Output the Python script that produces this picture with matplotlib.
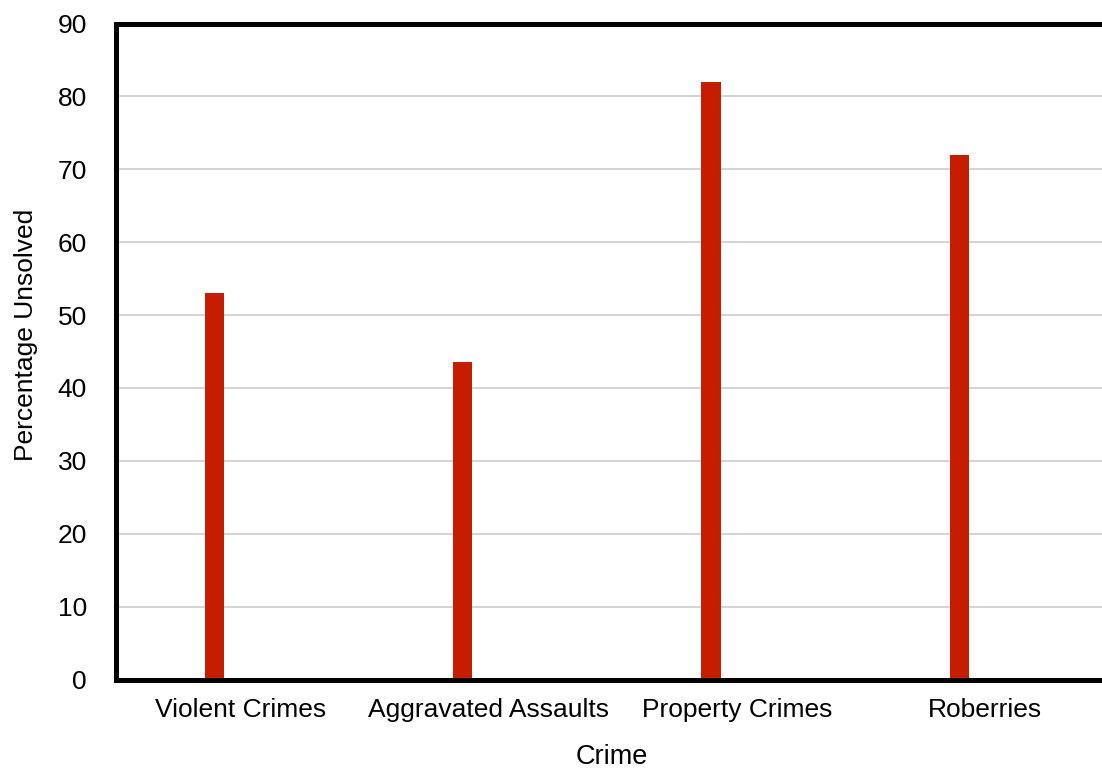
import matplotlib
matplotlib.use("Agg")
import matplotlib.pyplot as plt
import numpy as np

# Share of reported crimes left unsolved, by crime type
crimes = ["Violent Crimes", "Aggravated Assaults", "Property Crimes", "Roberries"]
unsolved_pct = [53.0, 43.6, 82.0, 72.0]
y_ticks = [0, 10, 20, 30, 40, 50, 60, 70, 80, 90]

plt.rcParams["font.family"] = ["Liberation Sans", "DejaVu Sans"]

fig = plt.figure(figsize=(11.02, 7.70), dpi=100)
W, H = 1102, 770
left, right, top, bottom = 116, 1102, 23.5, 679.5
ax = fig.add_axes([left / W, 1 - bottom / H, (right - left) / W, (bottom - top) / H])

x = np.arange(len(crimes))
bar_offset = -0.105
bar_width = 0.077
ax.bar(x + bar_offset, unsolved_pct, width=bar_width, color="#C61C00", zorder=3)

ax.set_xlim(-0.5016, 3.47)
ax.set_ylim(0, 90)
ax.set_yticks(y_ticks)
ax.set_xticks(x)
ax.set_xticklabels(crimes)

ax.grid(axis="y", color="#c8c8c8", linewidth=1.1, zorder=0)
ax.grid(axis="x", visible=False)

for side in ("left", "top", "bottom"):
    ax.spines[side].set_linewidth(3.6)
    ax.spines[side].set_color("black")
    ax.spines[side].set_zorder(4)
ax.spines["right"].set_visible(False)

ax.tick_params(axis="y", length=0, pad=21, labelsize=19)
ax.tick_params(axis="x", length=0, pad=13, labelsize=19)

ax.set_xlabel("Crime", fontsize=19.5, va="baseline")
ax.xaxis.set_label_coords((612 - left) / (right - left), (bottom - 764) / (bottom - top))
ax.set_ylabel("Percentage Unsolved", fontsize=19, va="baseline", rotation_mode="anchor")
ax.yaxis.set_label_coords((33 - left) / (right - left), (bottom - 335) / (bottom - top))

fig.savefig("out.png", dpi=100)
